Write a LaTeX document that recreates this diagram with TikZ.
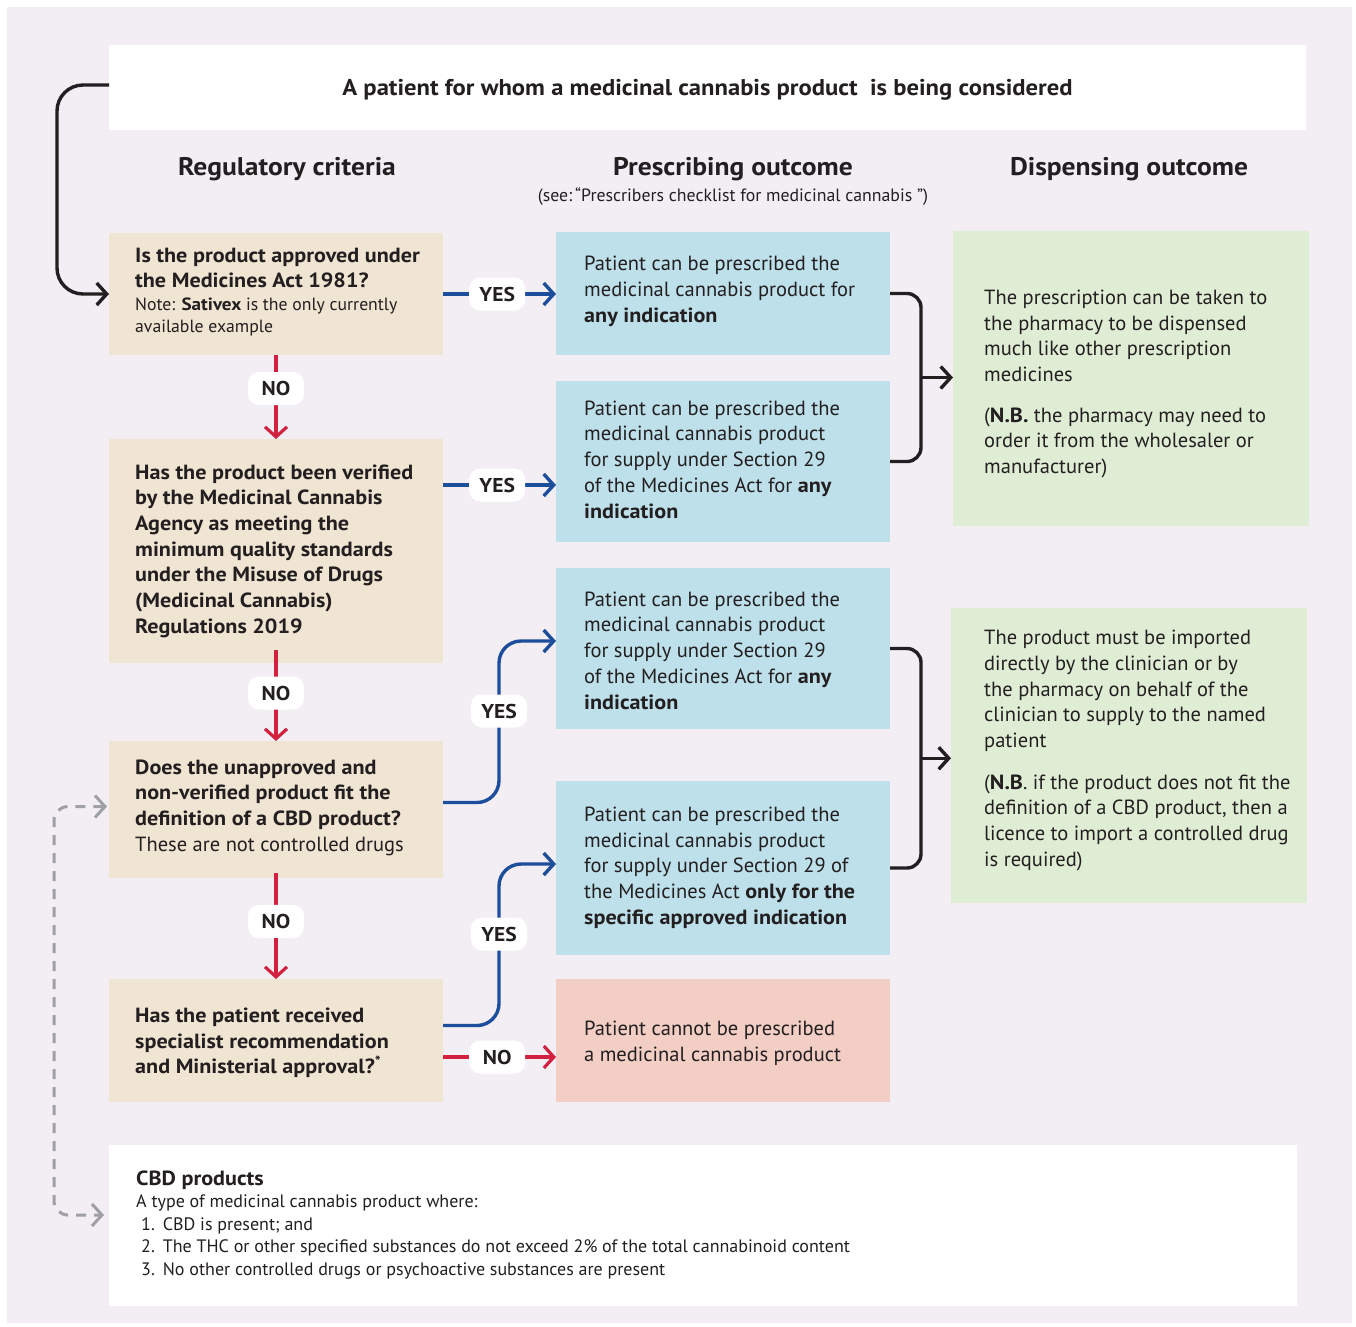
\documentclass[tikz,border=0pt]{standalone}
\usepackage{fontspec}
\setmainfont{PT Sans}[BoldFeatures={FakeStretch=1.08}]
\usetikzlibrary{arrows.meta,calc}
\definecolor{bgc}{HTML}{F2EEF4}
\definecolor{tanc}{HTML}{F0E4D2}
\definecolor{bluec}{HTML}{BDE0EA}
\definecolor{greenc}{HTML}{E0EDD5}
\definecolor{pinkc}{HTML}{F2CEC5}
\definecolor{arrblue}{HTML}{1D4E9B}
\definecolor{arrred}{HTML}{D1213F}
\definecolor{ink}{HTML}{231F20}
\definecolor{dashc}{HTML}{9FA0A5}
\begin{document}
\begin{tikzpicture}[x=1pt,y=-1pt,
  bx/.style={rectangle, inner sep=0pt, outer sep=0pt},
  tx/.style={anchor=west, align=left, inner sep=0pt, text=ink, font=\fontsize{20.5}{25.7}\selectfont},
  hdr/.style={inner sep=0pt, text=ink, font=\bfseries\fontsize{25.5}{29}\selectfont},
  lbl/.style={fill=white, rounded corners=11pt, minimum width=56pt, minimum height=33pt, inner sep=0pt, text=ink, font=\bfseries\fontsize{20}{24}\selectfont},
  barb/.tip={Straight Barb[length=10pt,width=22pt]},
  yesl/.style={draw=arrblue, line width=3.4pt, -barb, rounded corners=22pt},
  nol/.style={draw=arrred, line width=3.2pt, -barb},
  blkl/.style={draw=ink, line width=3.4pt, rounded corners=14pt},
  dashl/.style={draw=dashc, line width=3pt, dash pattern=on 10pt off 8pt, rounded corners=14pt, barb-barb}
]
\useasboundingbox (0,0) rectangle (1356,1326);
\fill[bgc] (7,7) rectangle (1352,1323);

% top box
\node[bx, fill=white, minimum width=1197pt, minimum height=85pt] (Top) at (707.5,87.5) {};
\node[inner sep=0pt, text=ink, font=\bfseries\fontsize{22.8}{26}\selectfont] (Topt) at (707.5,90) {A patient for whom a medicinal cannabis product\ \ is being considered};

% headers
\node[hdr] (H1) at (287,169) {Regulatory criteria};
\node[hdr] (H2) at (733,169) {Prescribing outcome};
\node[hdr] (H3) at (1129,169) {Dispensing outcome};
\node[inner sep=0pt, text=ink, font=\fontsize{17.8}{20}\selectfont] (H2s) at (733,197) {(see:\,“Prescribers checklist for medicinal cannabis ”)};

% question boxes
\node[bx, fill=tanc, minimum width=334pt, minimum height=122pt] (Q1) at (276,294) {};
\node[bx, fill=tanc, minimum width=334pt, minimum height=224pt] (Q2) at (276,551) {};
\node[bx, fill=tanc, minimum width=334pt, minimum height=137pt] (Q3) at (276,809.5) {};
\node[bx, fill=tanc, minimum width=334pt, minimum height=123pt] (Q4) at (276,1040.5) {};

\node[tx] (Q1t) at ($(Q1.west)+(26,-2)$) {\textbf{Is the product approved under}\\[-0.7pt]
\textbf{the Medicines Act 1981?}\\[-2pt]
{\fontsize{17.7}{22}\selectfont Note: \textbf{Sativex} is the only currently}\\[-3.7pt]
{\fontsize{17.7}{22}\selectfont available example}};
\node[tx, font=\bfseries\fontsize{20.5}{25.7}\selectfont] (Q2t) at ($(Q2.west)+(26,0)$) {Has the product been verified\\ by the Medicinal Cannabis\\ Agency as meeting the\\ minimum quality standards\\ under the Misuse of Drugs\\ (Medicinal Cannabis)\\ Regulations 2019};
\node[tx] (Q3t) at ($(Q3.west)+(26,-2)$) {\textbf{Does the unapproved and}\\ \textbf{non-verified product fit the}\\ \textbf{definition of a CBD product?}\\ These are not controlled drugs};
\node[tx, font=\bfseries\fontsize{20.5}{25.7}\selectfont] (Q4t) at ($(Q4.west)+(26,2.5)$) {Has the patient received\\ specialist recommendation\\ and Ministerial approval?\textsuperscript{*}};

% prescribing outcome boxes
\node[bx, fill=bluec, minimum width=334pt, minimum height=123pt] (B1) at (723,293.5) {};
\node[bx, fill=bluec, minimum width=334pt, minimum height=161pt] (B2) at (723,461.5) {};
\node[bx, fill=bluec, minimum width=334pt, minimum height=161pt] (B3) at (723,648.5) {};
\node[bx, fill=bluec, minimum width=334pt, minimum height=174pt] (B4) at (723,868) {};
\node[bx, fill=pinkc, minimum width=334pt, minimum height=123pt] (P) at (723,1040.5) {};

\node[tx] (B1t) at ($(B1.west)+(28,-2)$) {Patient can be prescribed the\\ medicinal cannabis product for\\ \textbf{any indication}};
\node[tx] (B2t) at ($(B2.west)+(28,-2)$) {Patient can be prescribed the\\ medicinal cannabis product\\ for supply under Section 29\\ of the Medicines Act for \textbf{any}\\ \textbf{indication}};
\node[tx] (B3t) at ($(B3.west)+(28,2)$) {Patient can be prescribed the\\ medicinal cannabis product\\ for supply under Section 29\\ of the Medicines Act for \textbf{any}\\ \textbf{indication}};
\node[tx] (B4t) at ($(B4.west)+(28,-0.5)$) {Patient can be prescribed the\\ medicinal cannabis product\\ for supply under Section 29 of\\ the Medicines Act \textbf{only for the}\\ \textbf{specific approved indication}};
\node[tx] (Pt) at ($(P.west)+(28,3)$) {Patient cannot be prescribed\\ a medicinal cannabis product};

% dispensing outcome boxes
\node[bx, fill=greenc, minimum width=356pt, minimum height=295pt] (G1) at (1131,378.5) {};
\node[bx, fill=greenc, minimum width=356pt, minimum height=295pt] (G2) at (1129,755.5) {};

\node[tx] (G1t) at ($(G1.west)+(31,5.5)$) {The prescription can be taken to\\ the pharmacy to be dispensed\\ much like other prescription\\ medicines\\[15pt] (\textbf{N.B.} the pharmacy may need to\\ order it from the wholesaler or\\ manufacturer)};
\node[tx] (G2t) at ($(G2.west)+(33,-5)$) {The product must be imported\\ directly by the clinician or by\\ the pharmacy on behalf of the\\ clinician to supply to the named\\ patient\\[16pt] (\textbf{N.B}. if the product does not fit the\\ definition of a CBD product, then a\\ licence to import a controlled drug\\ is required)};

% CBD box
\node[bx, fill=white, minimum width=1188pt, minimum height=161pt] (CBD) at (703,1225.5) {};
\node[tx, font=\fontsize{18}{22.5}\selectfont] (CBDt) at ($(CBD.west)+(27,-0.5)$) {{\bfseries\fontsize{20.5}{22.5}\selectfont CBD products}\\
A type of medicinal cannabis product where:\\
\hspace*{5pt}1.\hspace{8pt}CBD is present; and\\
\hspace*{5pt}2.\hspace{8pt}The THC or other specified substances do not exceed 2\% of the total cannabinoid content\\
\hspace*{5pt}3.\hspace{8pt}No other controlled drugs or psychoactive substances are present};

% loop from top box to first question
\draw[blkl, -barb, rounded corners=26pt] ($(Top.west)+(0,-2.5)$) -| ($(Q1.west)+(-52,0)$) -- (Q1.west);

% NO (vertical)
\draw[nol] (Q1.south) -- (Q2.north);
\node[lbl] (n1) at ($(Q1.south)!0.4!(Q2.north)$) {NO};
\draw[nol] ($(Q2.south)+(0,-13)$) -- (Q3.north);
\node[lbl] (n2) at ($(Q2.south)!0.385!(Q3.north)$) {NO};
\draw[nol] ($(Q3.south)+(0,-5)$) -- (Q4.north);
\node[lbl] (n3) at ($(Q3.south)!0.43!(Q4.north)$) {NO};

% YES (horizontal)
\draw[yesl] (Q1.east) -- (Q1.east -| B1.west);
\node[lbl] (y1) at ($(Q1.east)!0.48!(Q1.east -| B1.west)$) {YES};
\draw[yesl] ($(Q2.east)+(0,-66)$) -- ($(Q2.east -| B2.west)+(0,-66)$);
\node[lbl] (y2) at ($(Q2.east)!0.48!(Q2.east -| B2.west)+(0,-66)$) {YES};

% YES (curved up)
\draw[yesl] ($(Q3.east)+(0,-7)$) -| ($(B3.west)+(-57,-7.5)$) -- ($(B3.west)+(0,-7.5)$);
\node[lbl] (y3) at (499,711) {YES};
\draw[yesl] ($(Q4.east)+(0,-15)$) -| ($(B4.west)+(-57,-4)$) -- ($(B4.west)+(0,-4)$);
\node[lbl] (y4) at (499,934) {YES};

% NO to pink
\draw[nol] ($(Q4.east)+(0,16.5)$) -- ($(P.west)+(0,16.5)$);
\node[lbl] (n4) at ($(Q4.east)!0.48!(P.west)+(0,16.5)$) {NO};

% brackets to dispensing boxes
\draw[blkl] (B1.east) -- ++(31,0) |- (B2.east);
\coordinate (m1) at ($(B1.east)!0.5!(B2.east)+(31,0)$);
\draw[blkl, -barb] (m1) -- (m1 -| G1.west);
\draw[blkl] (B3.east) -- ++(31,0) |- (B4.east);
\coordinate (m2) at ($(B3.east)!0.5!(B4.east)+(31,0)$);
\draw[blkl, -barb] (m2) -- (m2 -| G2.west);

% dashed CBD link
\draw[dashl] ($(Q3.west)+(-2,-3)$) -| ($(CBD.west)+(-55,-10.5)$) -- ($(CBD.west)+(-5,-10.5)$);
\end{tikzpicture}
\end{document}
